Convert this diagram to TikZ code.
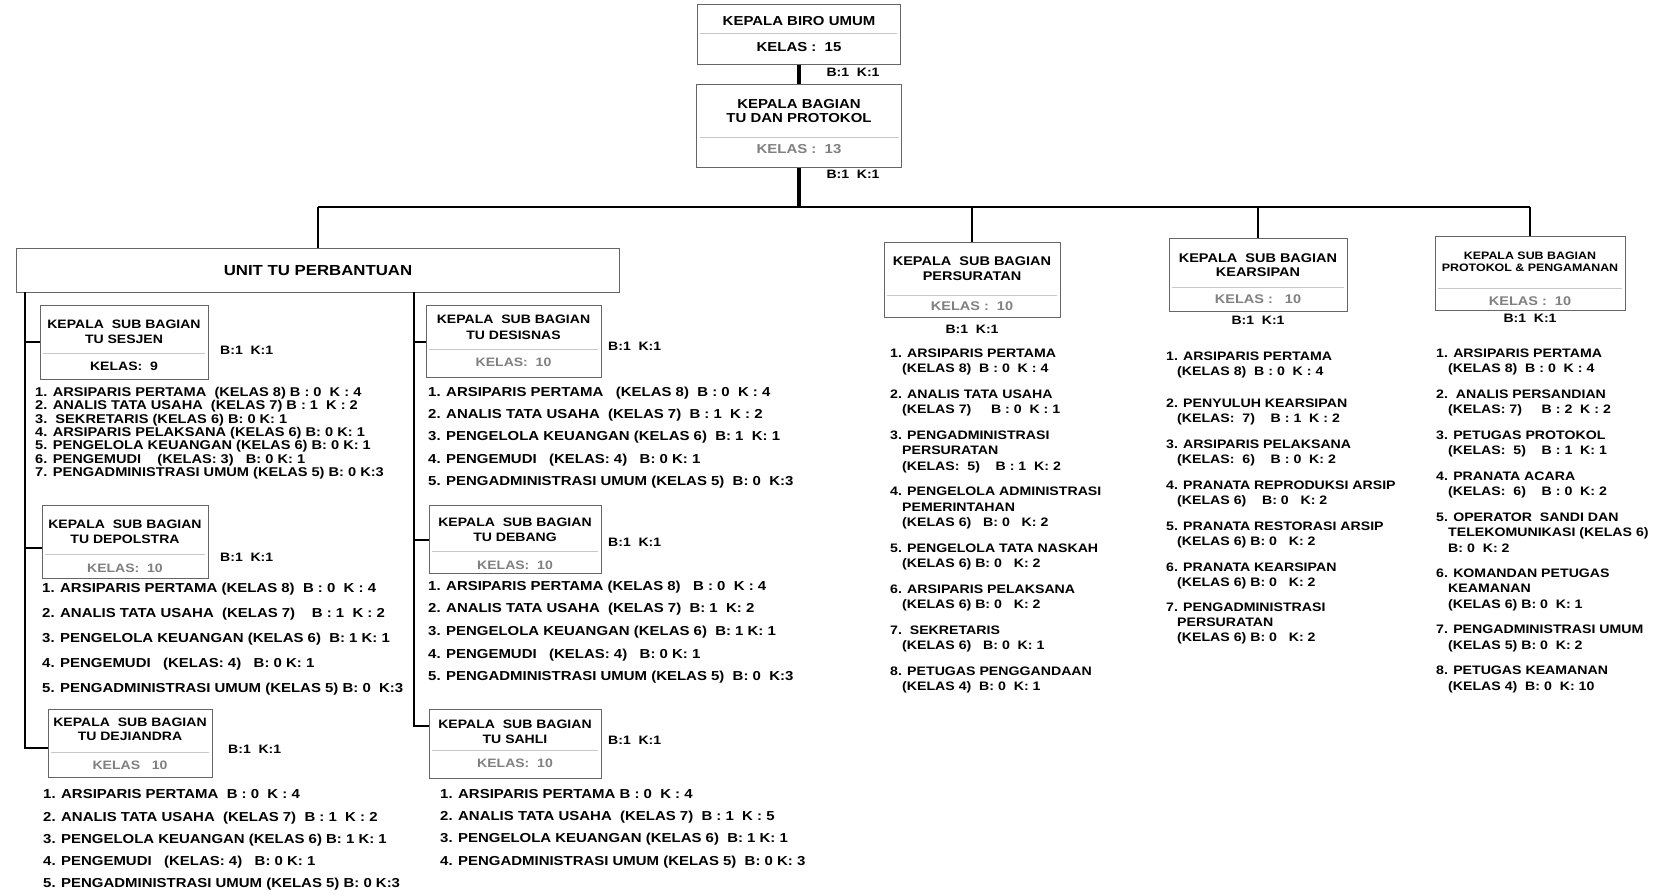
\documentclass[tikz,border=0pt]{standalone}
\usepackage{fontspec}
\setmainfont{Liberation Sans}[FakeStretch=1.15]
\newcommand\fTop{\fontsize{13}{15}\selectfont\bfseries}
\newcommand\fUnit{\fontsize{14.6}{16}\selectfont\bfseries}
\newcommand\fTtl{\fontsize{12.6}{14}\selectfont\bfseries}
\newcommand\fTtlS{\fontsize{12.2}{14}\selectfont\bfseries}
\newcommand\fSm{\fontsize{10.8}{12}\selectfont\bfseries}
\newcommand\fBK{\fontsize{12.2}{14}\selectfont\bfseries}
\newcommand\fLa{\fontsize{13}{15}\selectfont\bfseries}
\newcommand\fLs{\fontsize{12.7}{14}\selectfont\bfseries}
\newcommand\fLb{\fontsize{12.3}{14}\selectfont\bfseries}
\tikzset{
  box/.style={draw=black!60, line width=1pt, fill=white, inner sep=0pt},
  conn/.style={line width=2.4pt, black},
  thick conn/.style={line width=3.6pt, black},
  stub/.style={line width=2pt, black},
  sep/.style={draw=black!22, line width=0.8pt},
  tx/.style={inner sep=0pt, anchor=base, text=black},
  kel/.style={tx, text=black!50},
  lstA/.style={inner sep=0pt, anchor=base west, font=\fLa},
  lstS/.style={inner sep=0pt, anchor=base west, font=\fLs},
  lstB/.style={inner sep=0pt, anchor=base west, font=\fLb},
  bk/.style={inner sep=0pt, anchor=base west, font=\fBK},
  bkc/.style={inner sep=0pt, anchor=base, font=\fBK},
}
\begin{document}
\begin{tikzpicture}[x=1pt,y=-1pt]
\fill[white] (0,0) rectangle (1664,896);
\useasboundingbox (0,0) rectangle (1664,896);

% ---------- coordinates ----------
\coordinate (busL) at (318,207);
\coordinate (busM) at (799,207);
\coordinate (busP) at (972,207);
\coordinate (busK) at (1258,207);
\coordinate (busR) at (1530,207);
\coordinate (v1t) at (25,292);
\coordinate (v1b) at (25,748);
\coordinate (j11) at (25,342);
\coordinate (j12) at (25,548);
\coordinate (v2t) at (414,292);
\coordinate (v2b) at (414,726);
\coordinate (j21) at (414,342);
\coordinate (j22) at (414,540);

% ---------- boxes ----------
\node[box,minimum width=203,minimum height=60] (biro) at (799,35) {};
\node[box,minimum width=205,minimum height=83] (bagian) at (799,126.5) {};
\node[box,minimum width=603,minimum height=44] (unit) at (318,270) {};
\node[box,minimum width=168,minimum height=74] (sesjen) at (124,342) {};
\node[box,minimum width=175,minimum height=72] (desisnas) at (513.5,341) {};
\node[box,minimum width=166,minimum height=73] (depolstra) at (125,541.5) {};
\node[box,minimum width=172,minimum height=68] (debang) at (515,539) {};
\node[box,minimum width=164,minimum height=68] (dejiandra) at (130,743) {};
\node[box,minimum width=172,minimum height=69] (sahli) at (515,743.5) {};
\node[box,minimum width=176,minimum height=75] (pers) at (972,279.5) {};
\node[box,minimum width=178,minimum height=73] (kears) at (1258,274.5) {};
\node[box,minimum width=190,minimum height=74] (prot) at (1530,273) {};

% ---------- connectors ----------
\draw[thick conn] (biro.south) -- (bagian.north);
\draw[thick conn] (bagian.south) -- (busM);
\draw[conn] (busL) -- (busR);
\draw[conn] (busL) -- (unit.north);
\draw[conn] (busP) -- (pers.north);
\draw[conn] (busK) -- (kears.north);
\draw[conn] (busR) -- (prot.north);
\draw[conn] (v1t) -- (v1b) -- (v1b -| dejiandra.west);
\draw[stub] (j11) -- (j11 -| sesjen.west);
\draw[stub] (j12) -- (j12 -| depolstra.west);
\draw[conn] (v2t) -- (v2b) -- (v2b -| sahli.west);
\draw[stub] (j21) -- (j21 -| desisnas.west);
\draw[stub] (j22) -- (j22 -| debang.west);

% ---------- separators inside boxes ----------
\draw[sep] (700,33) -- (897,33);
\draw[sep] (700,137) -- (899,137);
\draw[sep] (43,353) -- (205,353);
\draw[sep] (429,349) -- (598,349);
\draw[sep] (45,554) -- (205,554);
\draw[sep] (432,551) -- (598,551);
\draw[sep] (51,752) -- (209,752);
\draw[sep] (432,750) -- (598,750);
\draw[sep] (887,295) -- (1057,295);
\draw[sep] (1172,287) -- (1344,287);
\draw[sep] (1438,288) -- (1622,288);

% ---------- box texts ----------
\node[tx,font=\fTop] (biroT) at (799,25.7) {KEPALA BIRO UMUM};
\node[tx,font=\fTop] (biroK) at (799,51.7) {KELAS :~~15};
\node[tx,font=\fTop] (bagT1) at (799,108.6) {KEPALA BAGIAN};
\node[tx,font=\fTop] (bagT2) at (799,122.6) {TU DAN PROTOKOL};
\node[kel,font=\fTop] (bagK) at (799,153.6) {KELAS :~~13};
\node[tx,font=\fUnit] (unitT) at (318,275.2) {UNIT TU PERBANTUAN};

\node[tx,font=\fTtlS] (sesT1) at (124,328.4) {KEPALA~~SUB BAGIAN};
\node[tx,font=\fTtlS] (sesT2) at (124,343.4) {TU SESJEN};
\node[tx,font=\fTtlS] (sesK) at (124,370.4) {KELAS:~~9};

\node[tx,font=\fTtlS] (desT1) at (513.5,323.4) {KEPALA~~SUB BAGIAN};
\node[tx,font=\fTtlS] (desT2) at (513.5,339.4) {TU DESISNAS};
\node[kel,font=\fTtlS] (desK) at (513.5,366.4) {KELAS:~~10};

\node[tx,font=\fTtlS] (depT1) at (125,528.4) {KEPALA~~SUB BAGIAN};
\node[tx,font=\fTtlS] (depT2) at (125,543.4) {TU DEPOLSTRA};
\node[kel,font=\fTtlS] (depK) at (125,572.4) {KELAS:~~10};

\node[tx,font=\fTtlS] (debT1) at (515,526.4) {KEPALA~~SUB BAGIAN};
\node[tx,font=\fTtlS] (debT2) at (515,541.4) {TU DEBANG};
\node[kel,font=\fTtlS] (debK) at (515,569.4) {KELAS:~~10};

\node[tx,font=\fTtlS] (dejT1) at (130,726.4) {KEPALA~~SUB BAGIAN};
\node[tx,font=\fTtlS] (dejT2) at (130,740.4) {TU DEJIANDRA};
\node[kel,font=\fTtlS] (dejK) at (130,769.4) {KELAS~~~10};

\node[tx,font=\fTtlS] (sahT1) at (515,728.4) {KEPALA~~SUB BAGIAN};
\node[tx,font=\fTtlS] (sahT2) at (515,743.4) {TU SAHLI};
\node[kel,font=\fTtlS] (sahK) at (515,767.4) {KELAS:~~10};

\node[tx,font=\fTtl] (perT1) at (972,265.5) {KEPALA~~SUB BAGIAN};
\node[tx,font=\fTtl] (perT2) at (972,280.5) {PERSURATAN};
\node[kel,font=\fTtl] (perK) at (972,310.5) {KELAS :~~10};

\node[tx,font=\fTtl] (kerT1) at (1258,262.5) {KEPALA~~SUB BAGIAN};
\node[tx,font=\fTtl] (kerT2) at (1258,276.5) {KEARSIPAN};
\node[kel,font=\fTtl] (kerK) at (1258,303.5) {KELAS :~~~10};

\node[tx,font=\fSm] (proT1) at (1530,259.9) {KEPALA SUB BAGIAN};
\node[tx,font=\fSm] (proT2) at (1530,271.9) {PROTOKOL \& PENGAMANAN};
\node[kel,font=\fTtl] (proK) at (1530,305.5) {KELAS :~~10};

% ---------- B K labels ----------
\node[bkc] (bk0) at (853,76.4) {B:1~~K:1};
\node[bkc] (bk00) at (853,178.4) {B:1~~K:1};
\node[bk] (bk1) at (220,354.4) {B:1~~K:1};
\node[bk] (bk2) at (608,350.4) {B:1~~K:1};
\node[bk] (bk3) at (220,561.4) {B:1~~K:1};
\node[bk] (bk4) at (608,546.4) {B:1~~K:1};
\node[bk] (bk5) at (228,753.4) {B:1~~K:1};
\node[bk] (bk6) at (608,744.4) {B:1~~K:1};
\node[bkc] (bk7) at (972,333.4) {B:1~~K:1};
\node[bkc] (bk8) at (1258,324.4) {B:1~~K:1};
\node[bkc] (bk9) at (1530,322.4) {B:1~~K:1};

% ---------- lists, columns 1-2 ----------
\foreach \yy/\txt [count=\i] in {
 392/{1. ARSIPARIS PERTAMA~~(KELAS 8) B : 0~~K : 4},
 405.3/{2. ANALIS TATA USAHA~~(KELAS 7) B : 1~~K : 2},
 418.6/{3.~~SEKRETARIS (KELAS 6) B: 0 K: 1},
 431.9/{4. ARSIPARIS PELAKSANA (KELAS 6) B: 0 K: 1},
 445.2/{5. PENGELOLA KEUANGAN (KELAS 6) B: 0 K: 1},
 458.5/{6. PENGEMUDI~~~~(KELAS: 3)~~~B: 0 K: 1},
 471.8/{7. PENGADMINISTRASI UMUM (KELAS 5) B: 0 K:3}}
 {\node[lstS] (sesL\i) at (35,\yy+4.5) {\txt};}

\foreach \yy/\txt [count=\i] in {
 392/{1. ARSIPARIS PERTAMA~~~(KELAS 8)~~B : 0~~K : 4},
 414/{2. ANALIS TATA USAHA~~(KELAS 7)~~B : 1~~K : 2},
 436/{3. PENGELOLA KEUANGAN (KELAS 6)~~B: 1~~K: 1},
 459/{4. PENGEMUDI~~~(KELAS: 4)~~~B: 0 K: 1},
 481/{5. PENGADMINISTRASI UMUM (KELAS 5)~~B: 0~~K:3}}
 {\node[lstA] (desL\i) at (428,\yy+4.65) {\txt};}

\foreach \yy/\txt [count=\i] in {
 588/{1. ARSIPARIS PERTAMA (KELAS 8)~~B : 0~~K : 4},
 613/{2. ANALIS TATA USAHA~~(KELAS 7)~~~~B : 1~~K : 2},
 638/{3. PENGELOLA KEUANGAN (KELAS 6)~~B: 1 K: 1},
 663/{4. PENGEMUDI~~~(KELAS: 4)~~~B: 0 K: 1},
 688/{5. PENGADMINISTRASI UMUM (KELAS 5) B: 0~~K:3}}
 {\node[lstA] (depL\i) at (42,\yy+4.65) {\txt};}

\foreach \yy/\txt [count=\i] in {
 586/{1. ARSIPARIS PERTAMA (KELAS 8)~~~B : 0~~K : 4},
 608/{2. ANALIS TATA USAHA~~(KELAS 7)~~B: 1~~K: 2},
 631/{3. PENGELOLA KEUANGAN (KELAS 6)~~B: 1 K: 1},
 654/{4. PENGEMUDI~~~(KELAS: 4)~~~B: 0 K: 1},
 676/{5. PENGADMINISTRASI UMUM (KELAS 5)~~B: 0~~K:3}}
 {\node[lstA] (debL\i) at (428,\yy+4.65) {\txt};}

\foreach \yy/\txt [count=\i] in {
 794/{1. ARSIPARIS PERTAMA~~B : 0~~K : 4},
 817/{2. ANALIS TATA USAHA~~(KELAS 7)~~B : 1~~K : 2},
 839/{3. PENGELOLA KEUANGAN (KELAS 6) B: 1 K: 1},
 861/{4. PENGEMUDI~~~(KELAS: 4)~~~B: 0 K: 1},
 883/{5. PENGADMINISTRASI UMUM (KELAS 5) B: 0 K:3}}
 {\node[lstA] (dejL\i) at (43,\yy+4.65) {\txt};}

\foreach \yy/\txt [count=\i] in {
 794/{1. ARSIPARIS PERTAMA B : 0~~K : 4},
 816/{2. ANALIS TATA USAHA~~(KELAS 7)~~B : 1~~K : 5},
 838/{3. PENGELOLA KEUANGAN (KELAS 6)~~B: 1 K: 1},
 861/{4. PENGADMINISTRASI UMUM (KELAS 5)~~B: 0 K: 3}}
 {\node[lstA] (sahL\i) at (440,\yy+4.65) {\txt};}

% ---------- lists, columns 3-5 ----------
\foreach \yy/\xx/\txt [count=\i] in {
 353/890/{1. ARSIPARIS PERTAMA},
 368.5/902/{(KELAS 8)~~B : 0~~K : 4},
 394/890/{2. ANALIS TATA USAHA},
 409.5/902/{(KELAS 7)~~~~~B : 0~~K : 1},
 435/890/{3. PENGADMINISTRASI},
 450.5/902/{PERSURATAN},
 466/902/{(KELAS:~~5)~~~~B : 1~~K: 2},
 491.5/890/{4. PENGELOLA ADMINISTRASI},
 507/902/{PEMERINTAHAN},
 522.5/902/{(KELAS 6)~~~B: 0~~~K: 2},
 548/890/{5. PENGELOLA TATA NASKAH},
 563.5/902/{(KELAS 6) B: 0~~~K: 2},
 589/890/{6. ARSIPARIS PELAKSANA},
 604.5/902/{(KELAS 6) B: 0~~~K: 2},
 630/890/{7.~~SEKRETARIS},
 645.5/902/{(KELAS 6)~~~B: 0~~K: 1},
 671/890/{8. PETUGAS PENGGANDAAN},
 686.5/902/{(KELAS 4)~~B: 0~~K: 1}}
 {\node[lstB] (perL\i) at (\xx,\yy+4.4) {\txt};}

\foreach \yy/\xx/\txt [count=\i] in {
 356/1166/{1. ARSIPARIS PERTAMA},
 371/1177/{(KELAS 8)~~B : 0~~K : 4},
 403/1166/{2. PENYULUH KEARSIPAN},
 418/1177/{(KELAS:~~7)~~~~B : 1~~K : 2},
 444/1166/{3. ARSIPARIS PELAKSANA},
 459/1177/{(KELAS:~~6)~~~~B : 0~~K: 2},
 485/1166/{4. PRANATA REPRODUKSI ARSIP},
 500/1177/{(KELAS 6)~~~~B: 0~~~K: 2},
 526/1166/{5. PRANATA RESTORASI ARSIP},
 541/1177/{(KELAS 6) B: 0~~~K: 2},
 567/1166/{6. PRANATA KEARSIPAN},
 582/1177/{(KELAS 6) B: 0~~~K: 2},
 607/1166/{7. PENGADMINISTRASI},
 622/1177/{PERSURATAN},
 637/1177/{(KELAS 6) B: 0~~~K: 2}}
 {\node[lstB] (kerL\i) at (\xx,\yy+4.4) {\txt};}

\foreach \yy/\xx/\txt [count=\i] in {
 353/1436/{1. ARSIPARIS PERTAMA},
 368.5/1448/{(KELAS 8)~~B : 0~~K : 4},
 394/1436/{2.~~ANALIS PERSANDIAN},
 409.5/1448/{(KELAS: 7)~~~~~B : 2~~K : 2},
 435/1436/{3. PETUGAS PROTOKOL},
 450.5/1448/{(KELAS:~~5)~~~~B : 1~~K: 1},
 476/1436/{4. PRANATA ACARA},
 491.5/1448/{(KELAS:~~6)~~~~B : 0~~K: 2},
 517/1436/{5. OPERATOR~~SANDI DAN},
 532.5/1448/{TELEKOMUNIKASI (KELAS 6)},
 548/1448/{B: 0~~K: 2},
 573/1436/{6. KOMANDAN PETUGAS},
 588.5/1448/{KEAMANAN},
 604/1448/{(KELAS 6) B: 0~~K: 1},
 629.5/1436/{7. PENGADMINISTRASI UMUM},
 645/1448/{(KELAS 5) B: 0~~K: 2},
 670.5/1436/{8. PETUGAS KEAMANAN},
 686/1448/{(KELAS 4)~~B: 0~~K: 10}}
 {\node[lstB] (proL\i) at (\xx,\yy+4.4) {\txt};}

\end{tikzpicture}
\end{document}
